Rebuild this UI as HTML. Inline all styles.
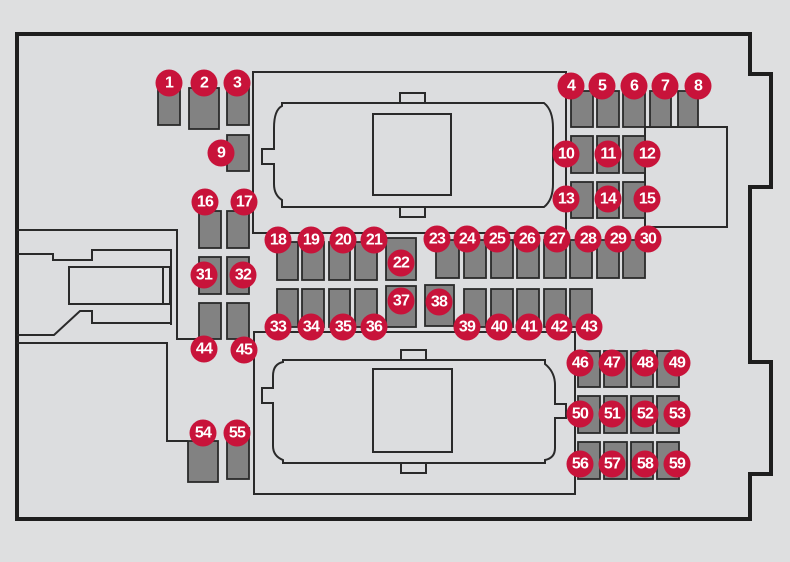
<!DOCTYPE html>
<html><head><meta charset="utf-8"><style>
html,body{margin:0;padding:0;background:#dedfe0;}
svg{display:block;}
text{font-family:"Liberation Sans",sans-serif;font-size:16px;font-weight:bold;fill:#fff;text-anchor:middle;dominant-baseline:central;letter-spacing:-0.8px;}
</style></head><body>
<svg width="790" height="562" viewBox="0 0 790 562" xmlns="http://www.w3.org/2000/svg">
<rect width="790" height="562" fill="#dedfe0"/>
<path d="M17,34 H750 V74 H771 V187 H750 V362 H771 V474 H750 V519 H17 Z" fill="#dcdddf" stroke="#1e1e1e" stroke-width="4"/>
<g fill="none" stroke="#2a2a2a" stroke-width="2">
<rect x="253" y="72" width="313" height="161"/>
<rect x="645" y="127" width="82" height="100" fill="#dcdddf"/>
<rect x="400" y="93" width="25" height="10"/>
<rect x="400" y="207" width="25" height="10"/>
<path d="M282,103 H544 Q553,110 553,128 V184 Q553,200 544,207 H282 V200 Q274,195 274,184 V164 H262 V149 H274 V128 Q274,110 282,106 Z"/>
<rect x="373" y="114" width="78" height="81"/>
<rect x="254" y="332" width="321" height="162"/>
<rect x="401" y="350" width="25" height="10"/>
<rect x="401" y="463" width="25" height="10"/>
<path d="M283,360 H545 V364 Q555,372 555,385 V404 H566 V418 H555 V448 Q555,458 545,460 V463 H283 V460 Q273,456 273,446 V403 H262 V388 H273 V376 Q273,364 283,362 Z"/>
<rect x="373" y="369" width="79" height="83"/>
<path d="M17,230 H177 V339 H199"/>
<path d="M17,343 H167 V441 H188"/>
<path d="M17,254 H53 V260 H92 V250 H171 V325"/>
<path d="M17,335 H54 L80,311 H92 V323 H171"/>
<rect x="69" y="267" width="101" height="37"/>
<line x1="163" y1="267" x2="163" y2="304"/>
</g>
<g fill="#828282" stroke="#2a2a2a" stroke-width="1.8">
<rect x="158" y="88" width="22" height="37"/>
<rect x="189" y="88" width="30" height="41"/>
<rect x="227" y="88" width="22" height="37"/>
<rect x="227" y="135" width="22" height="36"/>
<rect x="199" y="211" width="22" height="37"/>
<rect x="227" y="211" width="22" height="37"/>
<rect x="199" y="257" width="22" height="37"/>
<rect x="227" y="257" width="22" height="37"/>
<rect x="199" y="303" width="22" height="36"/>
<rect x="227" y="303" width="22" height="36"/>
<rect x="188" y="441" width="30" height="41"/>
<rect x="227" y="428" width="22" height="51"/>
<rect x="571" y="91" width="22" height="36"/>
<rect x="597" y="91" width="22" height="36"/>
<rect x="623" y="91" width="22" height="36"/>
<rect x="650" y="91" width="21" height="36"/>
<rect x="678" y="91" width="20" height="36"/>
<rect x="571" y="136" width="22" height="37"/>
<rect x="597" y="136" width="22" height="37"/>
<rect x="623" y="136" width="22" height="37"/>
<rect x="571" y="182" width="22" height="36"/>
<rect x="597" y="182" width="22" height="36"/>
<rect x="623" y="182" width="22" height="36"/>
<rect x="277" y="242" width="21" height="38"/>
<rect x="302" y="242" width="22" height="38"/>
<rect x="329" y="242" width="21" height="38"/>
<rect x="355" y="242" width="22" height="38"/>
<rect x="277" y="289" width="21" height="38"/>
<rect x="302" y="289" width="22" height="38"/>
<rect x="329" y="289" width="21" height="38"/>
<rect x="355" y="289" width="22" height="38"/>
<rect x="386" y="238" width="30" height="42"/>
<rect x="386" y="286" width="30" height="41"/>
<rect x="425" y="285" width="29" height="41"/>
<rect x="436" y="240" width="23" height="38"/>
<rect x="464" y="240" width="22" height="38"/>
<rect x="491" y="240" width="22" height="38"/>
<rect x="517" y="240" width="22" height="38"/>
<rect x="544" y="240" width="22" height="38"/>
<rect x="570" y="240" width="22" height="38"/>
<rect x="597" y="240" width="22" height="38"/>
<rect x="623" y="240" width="22" height="38"/>
<rect x="464" y="289" width="22" height="38"/>
<rect x="491" y="289" width="22" height="38"/>
<rect x="517" y="289" width="22" height="38"/>
<rect x="544" y="289" width="22" height="38"/>
<rect x="570" y="289" width="22" height="38"/>
<rect x="578" y="351" width="22" height="36"/>
<rect x="604" y="351" width="23" height="36"/>
<rect x="631" y="351" width="22" height="36"/>
<rect x="657" y="351" width="22" height="36"/>
<rect x="578" y="396" width="22" height="37"/>
<rect x="604" y="396" width="23" height="37"/>
<rect x="631" y="396" width="22" height="37"/>
<rect x="657" y="396" width="22" height="37"/>
<rect x="578" y="442" width="22" height="37"/>
<rect x="604" y="442" width="23" height="37"/>
<rect x="631" y="442" width="22" height="37"/>
<rect x="657" y="442" width="22" height="37"/>
</g>
<g fill="#c8133a">
<circle cx="169" cy="83" r="13.5"/><circle cx="204" cy="83" r="13.5"/><circle cx="237" cy="83" r="13.5"/>
<circle cx="221" cy="153" r="13.5"/>
<circle cx="205" cy="202" r="13.5"/><circle cx="244" cy="202" r="13.5"/>
<circle cx="204" cy="275" r="13.5"/><circle cx="243" cy="275" r="13.5"/>
<circle cx="204" cy="349" r="13.5"/><circle cx="244" cy="350" r="13.5"/>
<circle cx="203" cy="433" r="13.5"/><circle cx="237" cy="433" r="13.5"/>
<circle cx="571" cy="86" r="13.5"/><circle cx="602" cy="86" r="13.5"/><circle cx="634" cy="86" r="13.5"/><circle cx="665" cy="86" r="13.5"/><circle cx="698" cy="86" r="13.5"/>
<circle cx="566" cy="154" r="13.5"/><circle cx="608" cy="154" r="13.5"/><circle cx="647" cy="154" r="13.5"/>
<circle cx="566" cy="199" r="13.5"/><circle cx="608" cy="199" r="13.5"/><circle cx="647" cy="199" r="13.5"/>
<circle cx="278" cy="240" r="13.5"/><circle cx="311" cy="240" r="13.5"/><circle cx="343" cy="240" r="13.5"/><circle cx="374" cy="240" r="13.5"/>
<circle cx="401" cy="263" r="13.5"/>
<circle cx="437" cy="239" r="13.5"/><circle cx="467" cy="239" r="13.5"/><circle cx="497" cy="239" r="13.5"/><circle cx="527" cy="239" r="13.5"/><circle cx="557" cy="239" r="13.5"/><circle cx="588" cy="239" r="13.5"/><circle cx="618" cy="239" r="13.5"/><circle cx="648" cy="239" r="13.5"/>
<circle cx="401" cy="301" r="13.5"/><circle cx="439" cy="302" r="13.5"/>
<circle cx="278" cy="327" r="13.5"/><circle cx="311" cy="327" r="13.5"/><circle cx="343" cy="327" r="13.5"/><circle cx="374" cy="327" r="13.5"/>
<circle cx="467" cy="327" r="13.5"/><circle cx="499" cy="327" r="13.5"/><circle cx="529" cy="327" r="13.5"/><circle cx="559" cy="327" r="13.5"/><circle cx="589" cy="327" r="13.5"/>
<circle cx="580" cy="363" r="13.5"/><circle cx="612" cy="363" r="13.5"/><circle cx="645" cy="363" r="13.5"/><circle cx="677" cy="363" r="13.5"/>
<circle cx="580" cy="414" r="13.5"/><circle cx="612" cy="414" r="13.5"/><circle cx="645" cy="414" r="13.5"/><circle cx="677" cy="414" r="13.5"/>
<circle cx="580" cy="464" r="13.5"/><circle cx="612" cy="464" r="13.5"/><circle cx="645" cy="464" r="13.5"/><circle cx="677" cy="464" r="13.5"/>
</g>
<g>
<text x="169" y="83">1</text><text x="204" y="83">2</text><text x="237" y="83">3</text>
<text x="221" y="153">9</text>
<text x="205" y="202">16</text><text x="244" y="202">17</text>
<text x="204" y="275">31</text><text x="243" y="275">32</text>
<text x="204" y="349">44</text><text x="244" y="350">45</text>
<text x="203" y="433">54</text><text x="237" y="433">55</text>
<text x="571" y="86">4</text><text x="602" y="86">5</text><text x="634" y="86">6</text><text x="665" y="86">7</text><text x="698" y="86">8</text>
<text x="566" y="154">10</text><text x="608" y="154">11</text><text x="647" y="154">12</text>
<text x="566" y="199">13</text><text x="608" y="199">14</text><text x="647" y="199">15</text>
<text x="278" y="240">18</text><text x="311" y="240">19</text><text x="343" y="240">20</text><text x="374" y="240">21</text>
<text x="401" y="263">22</text>
<text x="437" y="239">23</text><text x="467" y="239">24</text><text x="497" y="239">25</text><text x="527" y="239">26</text><text x="557" y="239">27</text><text x="588" y="239">28</text><text x="618" y="239">29</text><text x="648" y="239">30</text>
<text x="401" y="301">37</text><text x="439" y="302">38</text>
<text x="278" y="327">33</text><text x="311" y="327">34</text><text x="343" y="327">35</text><text x="374" y="327">36</text>
<text x="467" y="327">39</text><text x="499" y="327">40</text><text x="529" y="327">41</text><text x="559" y="327">42</text><text x="589" y="327">43</text>
<text x="580" y="363">46</text><text x="612" y="363">47</text><text x="645" y="363">48</text><text x="677" y="363">49</text>
<text x="580" y="414">50</text><text x="612" y="414">51</text><text x="645" y="414">52</text><text x="677" y="414">53</text>
<text x="580" y="464">56</text><text x="612" y="464">57</text><text x="645" y="464">58</text><text x="677" y="464">59</text>
</g>
</svg>
</body></html>
